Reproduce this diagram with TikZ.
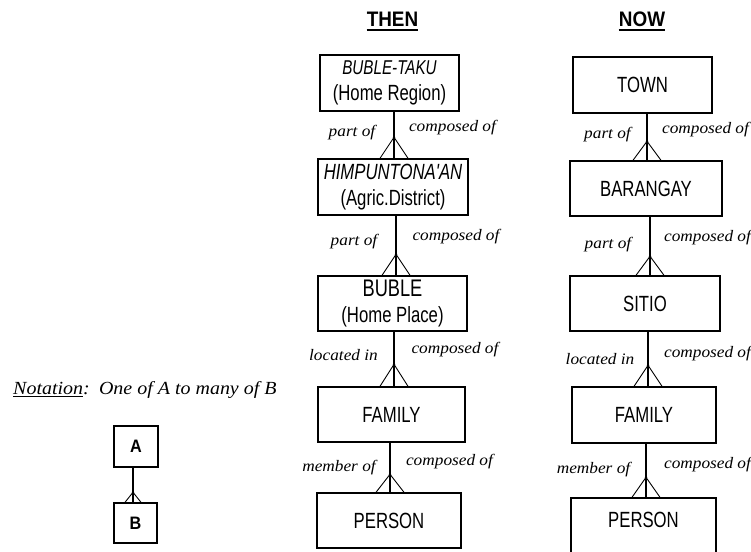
\documentclass[tikz,border=0pt]{standalone}
\usepackage{fontspec}
\setmainfont{Liberation Serif}
\newfontfamily\boxfont[FakeStretch=0.76]{Liberation Sans}
\newfontfamily\titlefont[FakeStretch=0.9]{Liberation Sans}
\newfontfamily\relfont[FakeStretch=1.08]{Liberation Serif}
\usetikzlibrary{calc}
\newcommand{\onetomany}[5]{%
  \coordinate (#1-s) at ([xshift=#3]#1.south);
  \coordinate (#2-t) at (#1-s |- #2.north);
  \coordinate (#2-a) at ($(#2-t)+(0,-#5)$);
  \draw[link] (#1-s) -- (#2-t);
  \draw[crow] ($(#2-t)+(-#4,0)$) -- (#2-a) -- ($(#2-t)+(#4,0)$);
  \fill (#2-a) circle (1.3);
}
\begin{document}
\begin{tikzpicture}[x=1pt,y=-1pt,
  entity/.style={draw, line width=1.4pt, inner sep=0pt, align=center,
    font=\boxfont\fontsize{22}{25.5}\selectfont},
  link/.style={line width=1.4pt},
  crow/.style={line width=0.9pt},
  rel/.style={inner sep=0pt, font=\relfont\itshape\fontsize{16}{18}\selectfont},
  ttl/.style={inner sep=0pt, font=\titlefont\bfseries\fontsize{21}{22}\selectfont},
  small/.style={draw, line width=1.4pt, inner sep=0pt,
    font=\titlefont\bfseries\fontsize{18}{18}\selectfont}]
\useasboundingbox (0,0) rectangle (751,551);
% titles
\node[ttl] (then) at (392.5,19) {THEN};
\node[ttl] (now) at (642,19) {NOW};
\draw[line width=2pt] ([yshift=-3.5]then.south west) -- ([yshift=-3.5]then.south east);
\draw[line width=2pt] ([yshift=-3.5]now.south west) -- ([yshift=-3.5]now.south east);
% THEN column
\node[entity, minimum width=139, minimum height=56] (t1) at (389.5,83)
  {{\fontsize{20}{25.5}\selectfont\itshape BUBLE-TAKU}\\(Home Region)};
\node[entity, minimum width=150, minimum height=56] (t2) at (393,187)
  {{\itshape HIMPUNTONA'AN}\\(Agric.District)};
\node[entity, minimum width=149, minimum height=55] (t3) at (392.5,303.5)
  {{\fontsize{24}{25.5}\selectfont BUBLE}\\(Home Place)};
\node[entity, minimum width=147, minimum height=55] (t4) at (391.5,414.5) {FAMILY};
\node[entity, minimum width=144, minimum height=55] (t5) at (389,520.5) {PERSON};
\onetomany{t1}{t2}{4.5}{14}{21}
\onetomany{t2}{t3}{3}{14}{21}
\onetomany{t3}{t4}{1.5}{14}{22}
\onetomany{t4}{t5}{-1.5}{14}{18}
\node[rel] (tl1) at (352,133) {part of};
\node[rel] (tr1) at (452.5,128) {composed of};
\node[rel] (tl2) at (354,242) {part of};
\node[rel] (tr2) at (456,237) {composed of};
\node[rel] (tl3) at (343.5,355) {located in};
\node[rel] (tr3) at (455,350) {composed of};
\node[rel] (tl4) at (339,468) {member of};
\node[rel] (tr4) at (449.5,462) {composed of};
% NOW column
\node[entity, minimum width=139, minimum height=56] (n1) at (642.5,85) {TOWN};
\node[entity, minimum width=152, minimum height=55] (n2) at (646,188.5) {BARANGAY};
\node[entity, minimum width=150, minimum height=55] (n3) at (645,303.5) {SITIO};
\node[entity, minimum width=144, minimum height=56] (n4) at (644,415) {FAMILY};
\node[entity, minimum width=145, minimum height=58, text depth=14pt] (n5) at (643.5,527) {PERSON};
\onetomany{n1}{n2}{4.5}{14}{19}
\onetomany{n2}{n3}{4}{14}{19}
\onetomany{n3}{n4}{3}{14}{21}
\onetomany{n4}{n5}{2}{14}{20}
\node[rel] (nl1) at (607.5,135) {part of};
\node[rel] (nr1) at (705.5,130) {composed of};
\node[rel] (nl2) at (608,245) {part of};
\node[rel] (nr2) at (707.5,238) {composed of};
\node[rel] (nl3) at (600,359) {located in};
\node[rel] (nr3) at (707.5,354) {composed of};
\node[rel] (nl4) at (593.5,470) {member of};
\node[rel] (nr4) at (707.5,465) {composed of};
% Notation
\node[rel, anchor=west, font=\relfont\itshape\fontsize{18.5}{20}\selectfont] (note) at (13,390)
  {\underline{Notation}:\enspace One of A to many of B};
\node[small, minimum width=44, minimum height=41] (A) at (136,446.5) {A};
\node[small, minimum width=43, minimum height=40] (B) at (135.5,523) {B};
\onetomany{A}{B}{-3}{8}{10}
\end{tikzpicture}
\end{document}
